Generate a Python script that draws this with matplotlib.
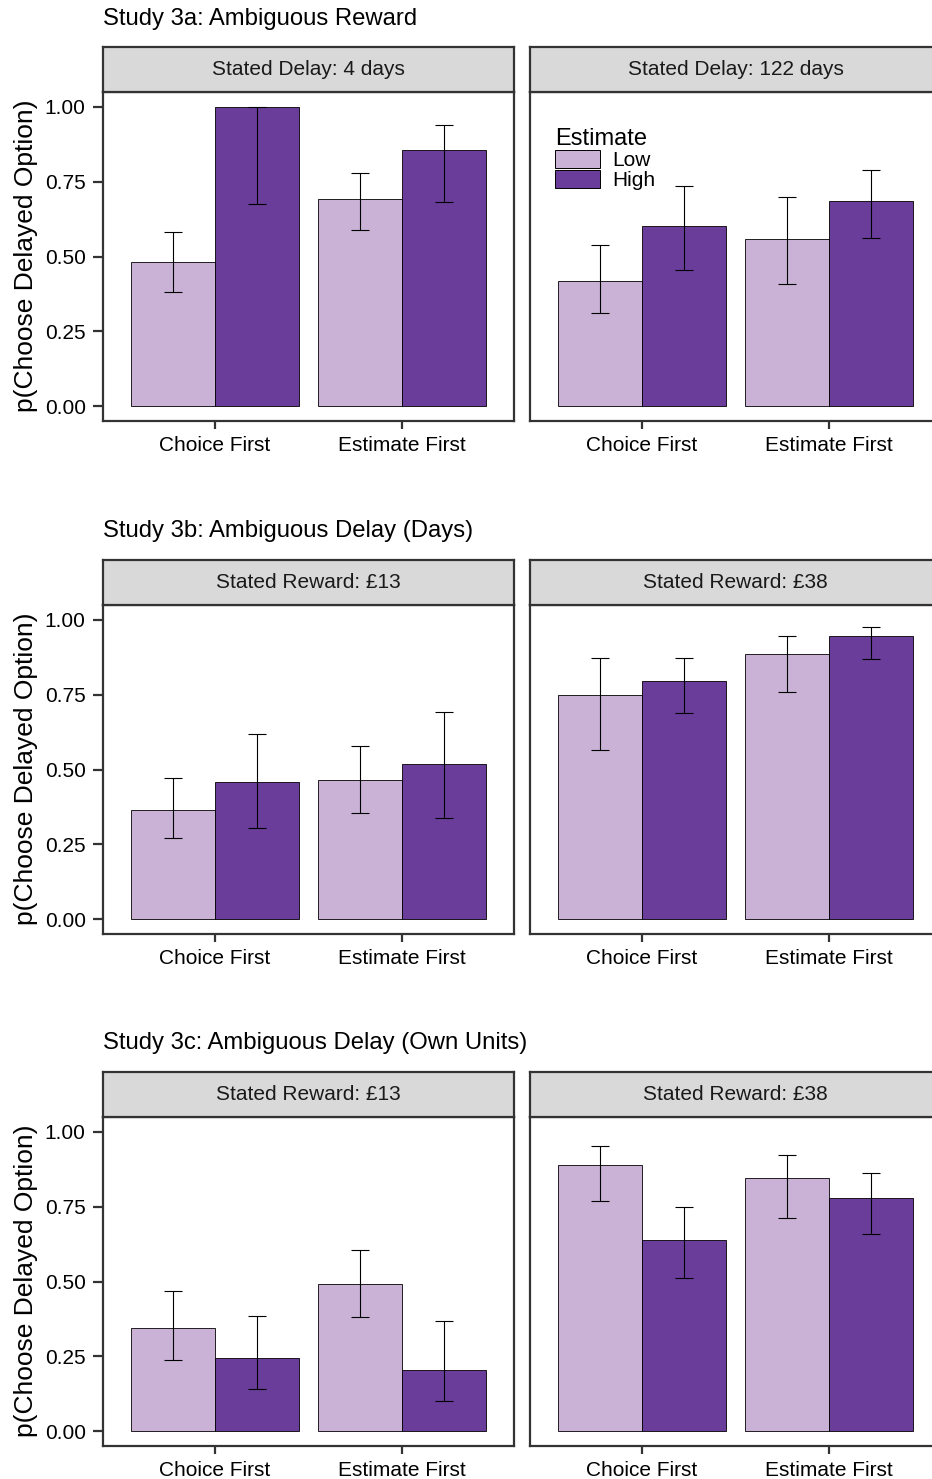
import matplotlib
matplotlib.use("Agg")
import matplotlib.pyplot as plt
from matplotlib.patches import Patch

plt.rcParams['font.family'] = ['Liberation Sans', 'DejaVu Sans']

# ---------------- data ----------------
orders = ["Choice First", "Estimate First"]
estimate_levels = ["Low", "High"]
y_ticks = [0.00, 0.25, 0.50, 0.75, 1.00]
y_tick_labels = ["0.00", "0.25", "0.50", "0.75", "1.00"]

study_titles = ["Study 3a: Ambiguous Reward",
                "Study 3b: Ambiguous Delay (Days)",
                "Study 3c: Ambiguous Delay (Own Units)"]
s3a_panels = ["Stated Delay: 4 days", "Stated Delay: 122 days"]
s3b_panels = ["Stated Reward: £13", "Stated Reward: £38"]
s3c_panels = ["Stated Reward: £13", "Stated Reward: £38"]

# indexing: [panel][estimate (Low, High)][order (Choice First, Estimate First)]
s3a_mean = [[[0.482, 0.692], [1.000, 0.856]],
            [[0.418, 0.559], [0.602, 0.686]]]
s3a_lo = [[[0.381, 0.589], [0.676, 0.682]],
          [[0.311, 0.408], [0.455, 0.562]]]
s3a_hi = [[[0.582, 0.779], [1.000, 0.940]],
          [[0.538, 0.699], [0.736, 0.789]]]

s3b_mean = [[[0.364, 0.464], [0.457, 0.517]],
            [[0.749, 0.885], [0.795, 0.945]]]
s3b_lo = [[[0.270, 0.353], [0.305, 0.339]],
          [[0.565, 0.759], [0.688, 0.870]]]
s3b_hi = [[[0.470, 0.579], [0.618, 0.692]],
          [[0.872, 0.948], [0.874, 0.978]]]

s3c_mean = [[[0.345, 0.493], [0.244, 0.204]],
            [[0.891, 0.845], [0.639, 0.778]]]
s3c_lo = [[[0.236, 0.380], [0.141, 0.102]],
          [[0.769, 0.712], [0.513, 0.660]]]
s3c_hi = [[[0.469, 0.605], [0.386, 0.367]],
          [[0.952, 0.922], [0.749, 0.862]]]

colors = ["#CAB2D6", "#6A3D9A"]

# ---------------- layout ----------------
W, H = 932, 1479
fig = plt.figure(figsize=(W / 100, H / 100), dpi=100)
fig.patch.set_facecolor("white")

def fx(px):
    return px / W

def fy(py):
    return 1 - py / H

panel_x = [(103, 514), (530, 941)]
row_strip_top = [47, 560, 1072]
title_y = [19, 531, 1043]
strip_h = 45
panel_h = 329
border_col = "#333333"

studies = [(s3a_panels, s3a_mean, s3a_lo, s3a_hi),
           (s3b_panels, s3b_mean, s3b_lo, s3b_hi),
           (s3c_panels, s3c_mean, s3c_lo, s3c_hi)]

bar_w = 0.45
cap_half = 0.05

for r, (panels, means, los, his) in enumerate(studies):
    st = row_strip_top[r]
    pt = st + strip_h
    pb = pt + panel_h
    fig.text(fx(103), fy(title_y[r]), study_titles[r], ha="left", va="center",
             fontsize=17.2, color="black")
    # y label
    fig.text(fx(26), fy((pt + pb) / 2 - 1), "p(Choose Delayed Option)", rotation=90,
             ha="center", va="center", fontsize=19, color="black")
    for p in range(2):
        x0, x1 = panel_x[p]
        ax = fig.add_axes([fx(x0), fy(pb), fx(x1 - x0), (pb - pt) / H])
        sax = fig.add_axes([fx(x0), fy(pt), fx(x1 - x0), strip_h / H])
        # strip
        sax.set_facecolor("#D9D9D9")
        sax.set_xticks([])
        sax.set_yticks([])
        for sp in sax.spines.values():
            sp.set_color(border_col)
            sp.set_linewidth(1.6)
        sax.text(0.5, 0.5, panels[p], transform=sax.transAxes, ha="center",
                 va="center", fontsize=15, color="#1A1A1A")
        # bars
        for e in range(2):
            xs = [i + 1 + (-bar_w / 2 if e == 0 else bar_w / 2) for i in range(2)]
            ax.bar(xs, means[p][e], width=bar_w, color=colors[e],
                   edgecolor="black", linewidth=0.6, zorder=2)
            ax.vlines(xs, los[p][e], his[p][e], color="black", linewidth=0.8, zorder=3)
            ax.hlines(los[p][e], [x - cap_half for x in xs], [x + cap_half for x in xs],
                      color="black", linewidth=0.8, zorder=3)
            ax.hlines(his[p][e], [x - cap_half for x in xs], [x + cap_half for x in xs],
                      color="black", linewidth=0.8, zorder=3)
        ax.set_xlim(0.4, 2.6)
        ax.set_ylim(-0.05, 1.05)
        ax.set_xticks([1, 2])
        ax.set_xticklabels(orders)
        for sp in ax.spines.values():
            sp.set_color(border_col)
            sp.set_linewidth(1.6)
        ax.tick_params(axis="x", length=6, width=1.6, color=border_col, pad=4.5,
                       labelsize=15, labelcolor="black")
        if p == 0:
            ax.set_yticks(y_ticks)
            ax.set_yticklabels(y_tick_labels)
            ax.tick_params(axis="y", length=7, width=1.6, color=border_col, pad=5.5,
                           labelsize=15, labelcolor="black")
        else:
            ax.set_yticks([])
        if r == 0 and p == 1:
            handles = [Patch(facecolor=colors[k], edgecolor="black", linewidth=0.7,
                             label=estimate_levels[k]) for k in range(2)]
            leg = ax.legend(handles=handles, title="Estimate", loc="upper left",
                            bbox_to_anchor=(fx(555), fy(128)),
                            bbox_transform=fig.transFigure, frameon=False,
                            fontsize=15, title_fontsize=17, handlelength=2.15,
                            handleheight=0.95, labelspacing=0.0, handletextpad=0.6,
                            borderpad=0.0, borderaxespad=0.0, alignment="left")

fig.savefig("out.png", dpi=100, facecolor="white")
